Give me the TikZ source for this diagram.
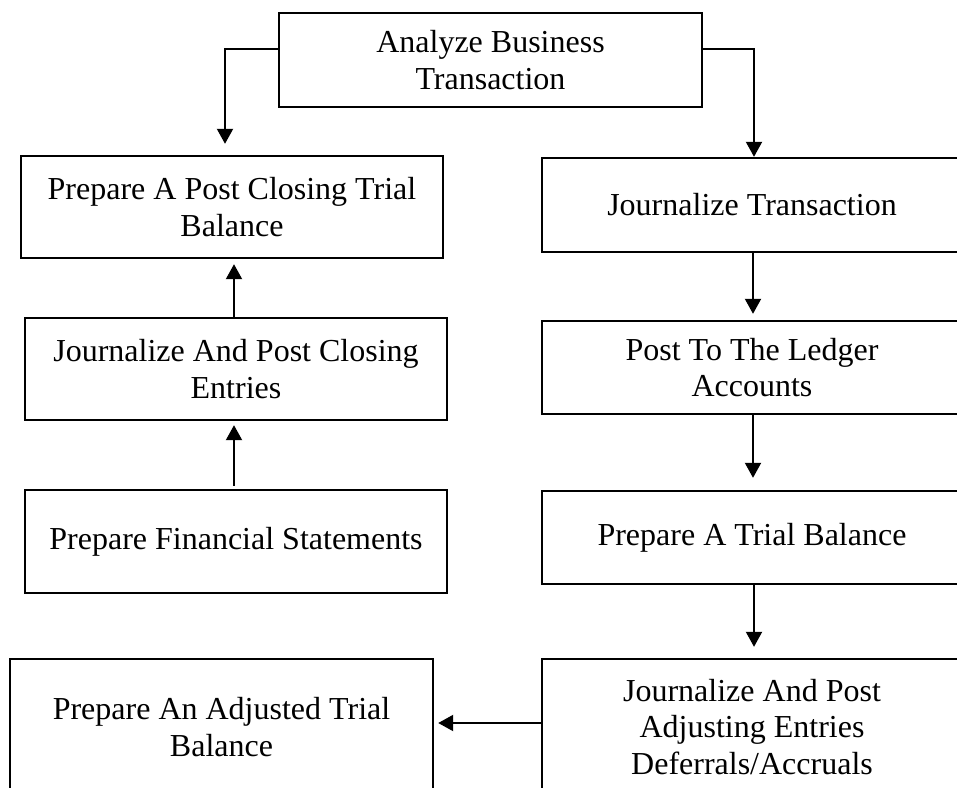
\documentclass[tikz,border=0pt]{standalone}
\usepackage{fontspec}
\setmainfont{Liberation Serif}
\usetikzlibrary{arrows.meta}
\begin{document}
\begin{tikzpicture}[x=1pt,y=-1pt,
  box/.style={draw=black, line width=2.4pt, align=center, inner sep=0pt,
    font=\fontsize{32}{36.5}\selectfont, text=black},
  arr/.style={draw=black, line width=2pt, -{Triangle[width=16pt,length=15pt]}}]
\useasboundingbox (0,0) rectangle (957,787);
\clip (0,0) rectangle (957,787);
\fill[white] (0,0) rectangle (957,787);
% boxes (pixel coordinates, y downwards)
\node[box, minimum width=423pt, minimum height=94pt] (top) at (490.5,60) {Analyze Business\\Transaction};
\node[box, minimum width=422pt, minimum height=102pt] (pcb) at (232,207) {Prepare A Post Closing Trial\\Balance};
\node[box, minimum width=422pt, minimum height=102pt] (jpc) at (236,369) {Journalize And Post Closing\\Entries};
\node[box, minimum width=422pt, minimum height=103pt] (pfs) at (236,541.5) {Prepare Financial Statements};
\node[box, minimum width=423pt, minimum height=136pt] (pat) at (221.5,727) {Prepare An Adjusted Trial\\Balance};
\node[box, minimum width=420pt, minimum height=94pt] (jt) at (752,205) {Journalize Transaction};
\node[box, minimum width=420pt, minimum height=93pt] (ptl) at (752,367.5) {Post To The Ledger\\Accounts};
\node[box, minimum width=420pt, minimum height=93pt] (ptb) at (752,537.5) {Prepare A Trial Balance};
\node[box, minimum width=420pt, minimum height=136pt] (jpa) at (752,727) {Journalize And Post\\Adjusting Entries\\Deferrals/Accruals};
% connectors
\draw[arr, shorten >=11pt] (top.west |- 0,49) -| (pcb.north -| 225,0);
\draw[arr] (top.east |- 0,49) -| (jt.north -| 754,0);
\draw[arr, shorten >=6pt] (jt.south -| 753,0) -- (ptl.north -| 753,0);
\draw[arr, shorten >=12pt] (ptl.south -| 753,0) -- (ptb.north -| 753,0);
\draw[arr, shorten >=11pt] (ptb.south -| 754,0) -- (jpa.north -| 754,0);
\draw[arr, shorten >=4pt] (jpa.west |- 0,723) -- (pat.east |- 0,723);
\draw[arr, shorten >=4pt, shorten <=3pt] (pfs.north -| 234,0) -- (jpc.south -| 234,0);
\draw[arr, shorten >=5pt] (jpc.north -| 234,0) -- (pcb.south -| 234,0);
\end{tikzpicture}
\end{document}
